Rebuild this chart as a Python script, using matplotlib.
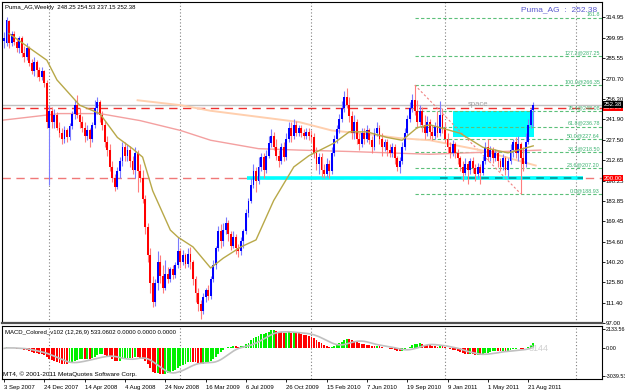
import matplotlib
matplotlib.use("Agg")
import matplotlib.pyplot as plt
import numpy as np
import pandas as pd
from matplotlib.patches import Rectangle
from matplotlib.transforms import blended_transform_factory

W, H = 625, 391

# weekly candles Puma_AG, 3 Sep 2007 .. Sep 2011
opens = [298, 296, 312, 296, 303, 297, 293, 300, 289, 286,
         293, 282, 276, 283, 277, 272, 276, 268, 236, 248,
         240, 245, 236, 232, 228, 234, 229, 237, 246, 252,
         245, 240, 236, 230, 234, 228, 238, 250, 254, 245,
         238, 226, 220, 208, 200, 194, 205, 212, 222, 216,
         220, 212, 206, 218, 205, 200, 185, 165, 145, 125,
         112, 125, 140, 130, 122, 132, 128, 135, 131, 138,
         148, 140, 145, 139, 146, 140, 128, 118, 110, 105,
         115, 120, 116, 128, 138, 150, 162, 155, 163, 168,
         160, 152, 158, 150, 148, 155, 162, 175, 184, 195,
         205, 198, 208, 215, 206, 216, 225, 230, 222, 216,
         212, 222, 215, 228, 236, 230, 238, 232, 236, 232,
         230, 233, 231, 229, 218, 210, 215, 206, 203, 210,
         205, 218, 228, 235, 242, 250, 258, 252, 244, 232,
         240, 228, 224, 232, 228, 234, 227, 222, 232, 236,
         228, 222, 226, 220, 218, 222, 214, 208, 212, 222,
         232, 242, 250, 256, 248, 240, 248, 238, 232, 240,
         233, 230, 237, 232, 245, 236, 228, 222, 218, 224,
         218, 214, 208, 204, 210, 206, 212, 207, 203, 208,
         204, 212, 222, 215, 220, 214, 218, 212, 208, 214,
         206, 212, 220, 226, 218, 224, 214, 210, 226, 238, 248.25]
highs = [304, 315, 313, 305, 305, 300, 301, 301, 294, 296,
         294, 285, 286, 284, 279, 279, 277, 270, 252, 251,
         249, 247, 240, 236, 237, 236, 239, 248, 256, 259,
         250, 244, 240, 238, 236, 240, 256, 258, 256, 248,
         241, 230, 224, 212, 203, 208, 215, 226, 226, 224,
         223, 216, 222, 220, 210, 206, 188, 168, 150, 130,
         128, 148, 145, 138, 142, 137, 137, 138, 140, 158,
         150, 149, 147, 150, 151, 142, 130, 122, 113, 118,
         122, 124, 130, 142, 152, 166, 167, 168, 172, 170,
         162, 162, 160, 153, 158, 164, 178, 186, 200, 210,
         208, 215, 218, 218, 220, 230, 235, 233, 228, 220,
         225, 226, 232, 240, 240, 242, 241, 238, 238, 235,
         236, 236, 234, 232, 222, 218, 218, 210, 214, 213,
         222, 231, 238, 246, 255, 262, 264, 258, 248, 245,
         242, 232, 236, 236, 238, 236, 230, 236, 240, 238,
         232, 228, 228, 224, 225, 224, 216, 215, 226, 236,
         245, 254, 260, 266.35, 256, 252, 251, 245, 244, 242,
         238, 240, 248, 255, 250, 240, 232, 226, 227, 226,
         221, 216, 212, 214, 212, 214, 215, 210, 211, 210,
         216, 226, 228, 223, 222, 221, 220, 214, 217, 216,
         214, 224, 228, 229, 230, 226, 222, 232, 242, 250, 254.53]
lows = [293, 294, 293, 294, 295, 290, 289, 286, 283, 284,
        280, 274, 273, 272, 269, 270, 265, 236, 195, 236,
        236, 234, 229, 224, 225, 226, 227, 235, 242, 243,
        236, 233, 226, 227, 222, 226, 236, 246, 240, 234,
        222, 216, 205, 197, 191, 192, 200, 209, 212, 212,
        208, 203, 200, 190, 197, 182, 160, 140, 118, 108,
        109, 120, 125, 118, 120, 125, 126, 128, 129, 136,
        136, 138, 136, 137, 135, 124, 112, 105, 100, 103,
        112, 113, 114, 126, 135, 148, 150, 152, 160, 155,
        149, 150, 146, 144, 145, 150, 160, 172, 182, 193,
        190, 196, 205, 200, 204, 214, 222, 220, 213, 208,
        210, 212, 213, 226, 226, 228, 230, 230, 229, 228,
        228, 227, 226, 214, 206, 203, 201, 200, 201, 200,
        203, 216, 225, 232, 240, 247, 250, 240, 228, 228,
        224, 220, 222, 224, 226, 224, 218, 220, 230, 224,
        216, 219, 216, 215, 215, 210, 205, 204, 210, 220,
        230, 240, 247, 245, 236, 238, 233, 228, 230, 228,
        227, 228, 229, 230, 232, 225, 218, 214, 216, 214,
        210, 205, 198, 202, 196, 203, 204, 198, 200, 196,
        202, 210, 212, 212, 211, 212, 208, 205, 206, 202,
        200, 210, 215, 214, 212, 188.93, 205, 208, 224, 236, 237.15]
closes = [300, 313, 296, 303, 297, 293, 300, 289, 286, 293,
          282, 276, 283, 277, 272, 276, 268, 240, 248, 240,
          245, 236, 232, 228, 234, 229, 237, 246, 252, 245,
          240, 236, 230, 234, 228, 238, 250, 254, 245, 238,
          226, 220, 208, 200, 194, 205, 212, 222, 216, 220,
          212, 206, 218, 205, 200, 185, 165, 145, 125, 112,
          125, 140, 130, 122, 132, 128, 135, 131, 138, 148,
          140, 145, 139, 146, 140, 128, 118, 110, 105, 115,
          120, 116, 128, 138, 150, 162, 155, 163, 168, 160,
          152, 158, 150, 148, 155, 162, 175, 184, 195, 205,
          198, 208, 215, 206, 216, 225, 230, 222, 216, 212,
          222, 215, 228, 236, 230, 238, 232, 236, 232, 230,
          233, 230, 229, 218, 210, 215, 206, 203, 210, 205,
          218, 228, 235, 242, 250, 258, 252, 244, 232, 240,
          228, 224, 232, 228, 234, 227, 222, 232, 236, 228,
          222, 226, 220, 218, 222, 214, 208, 212, 222, 232,
          242, 250, 256, 248, 240, 248, 238, 232, 240, 233,
          230, 237, 232, 245, 236, 228, 222, 218, 224, 218,
          214, 208, 204, 210, 206, 212, 207, 203, 208, 204,
          212, 222, 215, 220, 214, 218, 212, 208, 214, 206,
          212, 220, 226, 218, 224, 214, 210, 226, 238, 248.25, 252.38]

# moving averages (bar, price)
olive_bars = [2, 17, 21, 30, 38, 45, 51, 55, 59, 66, 69, 75, 82, 87, 94, 100, 107, 115, 121,
              131, 137, 144, 152, 158, 164, 169, 181, 190, 200, 210]
olive_vals = [303, 284, 270, 252, 246, 229, 221, 215, 191, 163, 158, 151, 136, 143, 151, 156,
              184, 208, 216, 225, 233, 233, 229, 227, 236, 238, 232, 222, 218, 223]
peach_bars = [53, 70, 82, 117, 130, 146, 157, 169, 189, 211]
peach_vals = [255.5, 252, 248, 240, 234, 231, 228.5, 227, 220, 209]
salmon_bars = [-2, 22, 38, 54, 70, 82, 101, 117, 137, 169, 213]
salmon_vals = [241, 246, 246, 241, 234, 227, 221, 220, 219, 217, 220]

price_ticks = [97.00, 111.40, 125.80, 140.20, 154.60, 169.45, 183.85, 198.25, 212.65,
               227.50, 241.90, 256.30, 270.70, 285.55, 299.95, 314.95]
date_bars = [0, 16, 32, 48, 64, 80, 96, 112, 128, 144, 160, 176, 192, 208]
date_labels = ["3 Sep 2007", "24 Dec 2007", "14 Apr 2008", "4 Aug 2008", "24 Nov 2008",
               "16 Mar 2009", "6 Jul 2009", "26 Oct 2009", "15 Feb 2010", "7 Jun 2010",
               "19 Sep 2010", "9 Jan 2011", "1 May 2011", "21 Aug 2011"]
year_sep_bars = [18, 70, 122, 175, 227]

fib_prices = [188.93, 207.20, 218.50, 227.64, 236.78, 248.08, 266.35, 287.25, 314.20]
fib_labels = ["0.0@188.93", "23.6@207.20", "38.2@218.50", "50.0@227.64", "61.8@236.78",
              "76.4@248.08", "100.0@266.35", "127.2@287.25", "161.8"]
fib_anchor_bars = [163, 205]
box_bars = [178, 210.5]
box_prices = [229.0, 248.1]

plt.rcParams["font.family"] = ["Liberation Sans", "DejaVu Sans"]

fig = plt.figure(figsize=(W / 100, H / 100), dpi=100)
fig.patch.set_facecolor("white")


def px_axes(x0, y0, x1, y1):
    return fig.add_axes([x0 / W, 1 - y1 / H, (x1 - x0) / W, (y1 - y0) / H])


ax = px_axes(2, 2, 602, 323)
axm = px_axes(2, 326, 602, 379)
xlim = (-0.8, 237.3)

for a in (ax, axm):
    a.set_xlim(*xlim)
    a.yaxis.tick_right()
    a.tick_params(axis="y", labelsize=4.3, length=2, width=0.6, pad=0.8)
    for s in a.spines.values():
        s.set_linewidth(0.8)
    for b in year_sep_bars:
        a.axvline(b, color="#808080", lw=0.8, ls=(0, (1, 2)), zorder=0.5)

ax.set_ylim(96.8, 325.5)
ax.set_yticks(price_ticks)
ax.set_yticklabels([f"{v:.2f}" for v in price_ticks])
ax.set_xticks([])
ax.spines["bottom"].set_linewidth(1.6)
ax.spines["bottom"].set_color("#505050")

# objects behind the candles
ax.add_patch(Rectangle((box_bars[0], box_prices[0]), box_bars[1] - box_bars[0],
                       box_prices[1] - box_prices[0], facecolor="#00ffff", edgecolor="none",
                       zorder=1))
ax.axhline(252.38, color="#c0c0c0", lw=1, zorder=1)
ax.axhline(250.0, color="#ee3030", lw=1, ls=(0, (6, 4)), zorder=1.2)
ax.axhline(200.0, color="#f07878", lw=1, ls=(0, (6, 4)), zorder=1.1)
ax.hlines(200.0, 96.4, 229.8, color="#00ffff", lw=2.6, zorder=1.3)
ax.hlines(200.0, 173, 229.8, color="#008b8b", lw=1.1, ls=(0, (5, 4)), zorder=1.4)

for p, lab in zip(fib_prices, fib_labels):
    ax.hlines(p, fib_anchor_bars[0], xlim[1], color="#5cc07a", lw=0.8, ls=(0, (3, 2)), zorder=1.2)
    ax.text(xlim[1] - 0.8, p + 0.5, lab, color="#3cb371", fontsize=3.9, ha="right", va="bottom",
            zorder=5)
ax.plot(fib_anchor_bars, [fib_prices[6], fib_prices[0]], color="#f08080", lw=0.8,
        ls=(0, (2, 2)), zorder=1.5)

ax.plot(salmon_bars, salmon_vals, color="#f4a0a0", lw=1.0, zorder=2)
ax.plot(peach_bars, peach_vals, color="#ffcfae", lw=1.4, zorder=2)
ax.plot(olive_bars, olive_vals, color="#b8a848", lw=1.0, zorder=3.5)

x = np.arange(len(closes))
o = np.array(opens); c = np.array(closes); h = np.array(highs); l = np.array(lows)
up = c >= o
ax.vlines(x[up], l[up], h[up], color="#7c7cff", lw=0.8, zorder=3)
ax.vlines(x[~up], l[~up], h[~up], color="#ff7c7c", lw=0.8, zorder=3)
ax.bar(x[up], (c - o)[up], bottom=o[up], width=0.75, color="#0000ff", zorder=3.2)
ax.bar(x[~up], (o - c)[~up], bottom=c[~up], width=0.75, color="#ff0000", zorder=3.2)

ax.text(188, 252.6, "space", color="#a0a0a0", fontsize=5.5, ha="center", va="center", zorder=5)

# price boxes on the right axis
tr = blended_transform_factory(ax.transAxes, ax.transData)
for p, fc in ((250.0, "#ff0000"), (200.0, "#ff0000"), (252.38, "black")):
    ax.text(1.003, p, f"{p:.2f}", transform=tr, color="white", fontsize=4.3, va="center",
            ha="left", bbox=dict(facecolor=fc, edgecolor="none", pad=0.5), zorder=6,
            clip_on=False)

fig.text(5 / W, 1 - 8 / H, "Puma_AG,Weekly  248.25 254.53 237.15 252.38", fontsize=4.3,
         va="center", ha="left")
fig.text(597 / W, 1 - 10 / H, "Puma_AG  :  252.38", fontsize=6, color="#5a5acd",
         va="center", ha="right")

# MACD (12,26,9) computed from the closes
cs = pd.Series(closes, dtype=float)
macd = (cs.ewm(span=12, adjust=False).mean() - cs.ewm(span=26, adjust=False).mean()) * 100
signal = macd.rolling(9, min_periods=1).mean()
rising = (macd.diff().fillna(0) > 0).values
axm.bar(x[rising], macd.values[rising], width=0.75, color="#00f000", zorder=2)
axm.bar(x[~rising], macd.values[~rising], width=0.75, color="#ff0000", zorder=2)
axm.plot(x, signal.values, color="#c0c0c0", lw=1.2, zorder=3)
axm.set_ylim(-3362, 2456)
axm.set_yticks([2133.56, 0.0, -3039.53])
axm.set_yticklabels(["2133.56", "0.00", "-3039.53"])
axm.tick_params(axis="y", labelsize=3.9)
axm.set_xticks(date_bars)
axm.set_xticklabels(date_labels, ha="left")
axm.tick_params(axis="x", labelsize=4.3, length=2.5, width=0.6, pad=1.5)
axm.text(0.005, 0.93, "MACD_Colored_v102 (12,26,9) 533.0602 0.0000 0.0000 0.0000",
         transform=axm.transAxes, fontsize=4.3, va="top", ha="left")
axm.text(0.002, 0.04, "MT4, \u00a9 2001-2011 MetaQuotes Software Corp.",
         transform=axm.transAxes, fontsize=4.6, va="bottom", ha="left")
axm.text(208, 0, "3144", color="#d0d0d0", fontsize=6.5, va="center", ha="left")

fig.savefig("out.png", dpi=100)
